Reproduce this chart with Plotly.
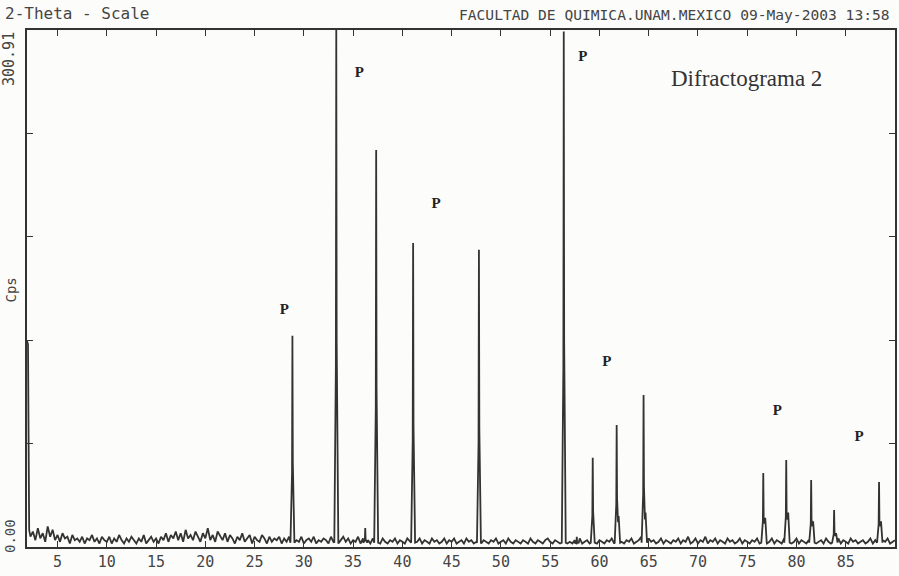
import numpy as np
import plotly.graph_objects as go

# ---- scan data -------------------------------------------------------------
# low-angle tail where the direct beam is still rising out of the detector window
low_angle_theta = [1.9, 2.0, 2.12]
low_angle_cps = [120.0, 118.0, 10.0]

# background counts, one value every 0.25 deg from 2.25 to 90.0 deg 2-theta
background_start = 2.25
background_step = 0.25
background_cps = [
    6, 9, 4, 11, 5, 8, 3, 12, 6, 10, 4, 7, 3, 8, 5, 6, 2, 7, 4, 5,
    3, 6, 2, 5, 4, 7, 3, 5, 2, 6, 4, 3, 6, 2, 5, 3, 7, 4, 2, 5,
    3, 6, 4, 2, 5, 3, 7, 2, 4, 6, 3, 5, 2, 6, 4, 8, 3, 7, 5, 9,
    4, 8, 3, 10, 5, 7, 4, 9, 6, 3, 8, 5, 11, 4, 7, 3, 9, 6, 4, 8,
    3, 7, 5, 2, 6, 4, 8, 3, 5, 7, 2, 6, 4, 3, 7, 5, 2, 6, 3, 5,
    4, 6, 2, 5, 3, 6, 2, 5, 4, 3, 6, 2, 4, 5, 3, 6, 2, 4, 3, 5,
    4, 2, 6, 3, 5, 2, 4, 6, 3, 5, 2, 4, 3, 6, 2, 5, 3, 4, 2, 5,
    3, 4, 2, 5, 3, 2, 4, 3, 5, 2, 4, 3, 2, 5, 3, 4, 2, 3, 5, 2,
    4, 3, 2, 5, 3, 4, 2, 3, 5, 2, 4, 3, 5, 2, 3, 4, 2, 5, 3, 4,
    2, 3, 5, 2, 4, 3, 2, 4, 3, 5, 2, 3, 4, 2, 5, 3, 2, 4, 3, 2,
    4, 3, 2, 5, 3, 2, 4, 3, 2, 4, 5, 3, 2, 4, 3, 2, 3, 4, 2, 3,
    2, 4, 3, 5, 2, 3, 4, 2, 3, 5, 2, 4, 3, 2, 4, 3, 5, 2, 3, 4,
    3, 2, 4, 3, 5, 2, 3, 4, 6, 3, 2, 5, 3, 4, 2, 3, 5, 2, 4, 3,
    2, 4, 3, 5, 2, 4, 3, 6, 2, 3, 5, 2, 4, 3, 6, 2, 4, 3, 5, 2,
    4, 3, 2, 5, 3, 4, 2, 3, 5, 2, 4, 3, 2, 4, 3, 5, 2, 3, 4, 2,
    3, 5, 2, 4, 3, 2, 5, 3, 4, 2, 3, 5, 2, 4, 3, 2, 4, 3, 5, 2,
    3, 4, 2, 5, 3, 2, 4, 3, 5, 2, 4, 3, 2, 5, 3, 4, 2, 3, 4, 2,
    3, 5, 2, 4, 3, 2, 4, 3, 5, 2, 3, 4,
]

# reflections: position (deg 2-theta), peak counts, K-alpha2 shoulder counts
peak_theta = [28.84, 33.29, 36.23, 37.34, 41.09, 47.77, 56.38, 57.70,
              59.32, 61.75, 64.48, 76.63, 78.96, 81.49, 83.82, 88.38]
peak_cps = [123.0, 300.91, 11.0, 231.0, 177.0, 173.0, 300.0, 6.0,
            52.0, 71.0, 88.5, 43.0, 50.6, 39.0, 21.5, 37.8]
shoulder_cps = [0, 0, 0, 0, 0, 0, 0, 0,
                0, 18.0, 20.0, 17.0, 20.0, 15.0, 8.0, 15.0]

# labelled reflections ("P")
label_theta = [28.03, 35.62, 43.42, 58.31, 60.74, 78.05, 86.36]
label_cps = [137.9, 275.9, 199.6, 285.2, 107.7, 79.2, 64.0]

x_ticks = [5, 10, 15, 20, 25, 30, 35, 40, 45, 50, 55, 60, 65, 70, 75, 80, 85]
y_max = 300.91
y_tick_count = 5

# ---- build the profile -----------------------------------------------------
bg_theta = background_start + background_step * np.arange(len(background_cps))
bg_cps = np.array(background_cps, dtype=float)

half_base = 0.2
keep = np.ones(len(bg_theta), dtype=bool)
pk_x, pk_y = [], []
for pos, top, sh in zip(peak_theta, peak_cps, shoulder_cps):
    keep &= ~((bg_theta > pos - half_base) & (bg_theta < pos + half_base + (0.15 if sh else 0)))
    pk_x += [pos - half_base, pos - 0.04, pos, pos + 0.04]
    pk_y += [2.5, top * 0.35, top, top * 0.4]
    if sh:
        pk_x += [pos + 0.14, pos + 0.2, pos + half_base + 0.15]
        pk_y += [sh * 0.8, sh, 2.5]
    else:
        pk_x += [pos + half_base]
        pk_y += [2.5]

theta = np.concatenate([low_angle_theta, bg_theta[keep], pk_x])
cps = np.concatenate([low_angle_cps, bg_cps[keep], pk_y])
order = np.argsort(theta, kind="stable")
theta, cps = theta[order], cps[order]

# ---- figure ----------------------------------------------------------------
ink = "#333333"
text_ink = "#454545"
mono = "DejaVu Sans Mono"
left_margin, plot_width = 27, 870

fig = go.Figure()
fig.add_trace(go.Scatter(
    x=theta, y=cps, mode="lines",
    line=dict(color=ink, width=1.8),
    hoverinfo="skip", showlegend=False,
))

fig.add_trace(go.Scatter(
    x=label_theta, y=label_cps, mode="text", text=["<b>P</b>"] * len(label_theta),
    textfont=dict(family="Liberation Serif", size=15, color="#222"),
    hoverinfo="skip", showlegend=False,
))

fig.update_layout(
    width=899, height=576,
    margin=dict(l=left_margin, r=2, t=30, b=29),
    paper_bgcolor="#fcfcfb", plot_bgcolor="#fcfcfb",
    xaxis=dict(
        range=[1.9, 90.0], tickvals=x_ticks,
        ticktext=[str(v) for v in x_ticks],
        ticks="inside", ticklen=6, tickwidth=1.2, tickcolor=ink,
        showline=True, linecolor=ink, linewidth=2, mirror="ticks",
        showgrid=False, zeroline=False,
        tickfont=dict(family=mono, size=15, color=text_ink),
    ),
    yaxis=dict(
        range=[0, y_max], tickvals=[y_max * i / y_tick_count for i in range(y_tick_count + 1)],
        showticklabels=False,
        ticks="inside", ticklen=6, tickwidth=1.2, tickcolor=ink,
        showline=True, linecolor=ink, linewidth=2, mirror="ticks",
        showgrid=False, zeroline=False,
    ),
)

annotations = [
    dict(text="2-Theta - Scale", x=-24 / plot_width, y=1.0, xref="paper", yref="paper",
         xanchor="left", yanchor="bottom", yshift=5, showarrow=False,
         font=dict(family=mono, size=16, color=text_ink)),
    dict(text="FACULTAD DE QUIMICA.UNAM.MEXICO 09-May-2003 13:58", x=0.9965, y=1.0,
         xref="paper", yref="paper", xanchor="right", yanchor="bottom", yshift=5,
         showarrow=False, font=dict(family=mono, size=14.6, color=text_ink)),
    dict(text="Difractograma 2", x=0.829, y=0.907, xref="paper", yref="paper",
         xanchor="center", yanchor="middle", showarrow=False,
         font=dict(family="Liberation Serif", size=23, color="#333")),
    dict(text=f"{y_max:.2f}", x=0, y=y_max, xref="paper", yref="y",
         xanchor="right", yanchor="top", xshift=-7, textangle=-90, showarrow=False,
         font=dict(family=mono, size=15, color=text_ink)),
    dict(text="Cps", x=0, y=0.5, xref="paper", yref="paper",
         xanchor="right", yanchor="middle", xshift=-7, yshift=-2, textangle=-90,
         showarrow=False, font=dict(family=mono, size=14, color=text_ink)),
    dict(text="0.00", x=0, y=0, xref="paper", yref="y",
         xanchor="right", yanchor="bottom", xshift=-7, yshift=-8, textangle=-90,
         showarrow=False, font=dict(family=mono, size=14, color=text_ink)),
]
fig.update_layout(annotations=annotations)

fig.write_html("out.html")
